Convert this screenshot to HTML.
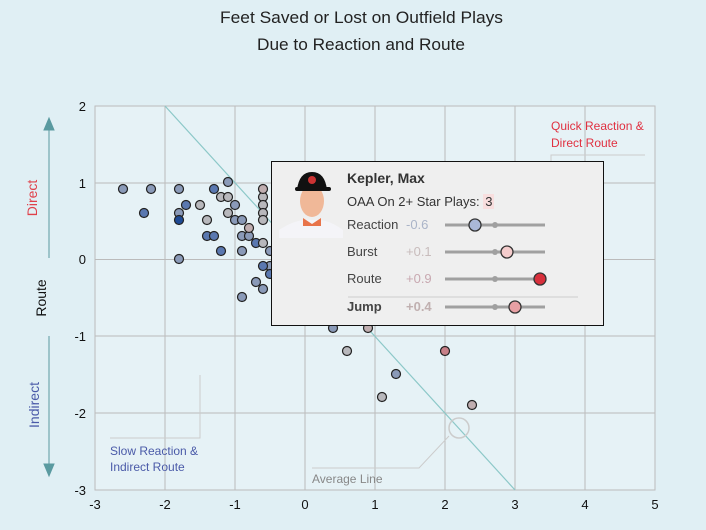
<!DOCTYPE html>
<html><head><meta charset="utf-8"><style>
body{margin:0;width:706px;height:530px;background:#e0eff4;font-family:"Liberation Sans",sans-serif;overflow:hidden;position:relative}
.tt{position:absolute;left:271px;top:161px;width:331px;height:163px;background:#efefef;border:1.5px solid #111;}
.tt div{position:absolute;font-size:13px;color:#444}
</style></head><body>
<svg width="706" height="530" style="position:absolute;left:0;top:0" font-family="Liberation Sans, sans-serif">
<text x="220" y="23" font-size="16.5" fill="#222" textLength="283" lengthAdjust="spacingAndGlyphs">Feet Saved or Lost on Outfield Plays</text>
<text x="257" y="50" font-size="16.5" fill="#222" textLength="208" lengthAdjust="spacingAndGlyphs">Due to Reaction and Route</text>
<rect x="95" y="106" width="560" height="384" fill="#e6f2f6" stroke="#bbb"/>
<g stroke="#bbb" stroke-width="1">
<line x1="165" y1="106" x2="165" y2="490"/><line x1="235" y1="106" x2="235" y2="490"/><line x1="305" y1="106" x2="305" y2="490"/><line x1="375" y1="106" x2="375" y2="490"/><line x1="445" y1="106" x2="445" y2="490"/><line x1="515" y1="106" x2="515" y2="490"/><line x1="585" y1="106" x2="585" y2="490"/>
<line x1="95" y1="183" x2="655" y2="183"/><line x1="95" y1="259.5" x2="655" y2="259.5"/><line x1="95" y1="336" x2="655" y2="336"/><line x1="95" y1="413" x2="655" y2="413"/>
</g>
<g font-size="13" fill="#111" text-anchor="middle">
<text x="95" y="509">-3</text><text x="165" y="509">-2</text><text x="235" y="509">-1</text><text x="305" y="509">0</text><text x="375" y="509">1</text><text x="445" y="509">2</text><text x="515" y="509">3</text><text x="585" y="509">4</text><text x="655" y="509">5</text>
</g>
<g font-size="13" fill="#111" text-anchor="end">
<text x="86" y="111">2</text><text x="86" y="188">1</text><text x="86" y="264">0</text><text x="86" y="341">-1</text><text x="86" y="418">-2</text><text x="86" y="495">-3</text>
</g>
<line x1="165" y1="106" x2="515" y2="490" stroke="#8cc8c8" stroke-width="1.2"/>
<g stroke="#5a9aa0" fill="#5a9aa0"><line x1="49" y1="258" x2="49" y2="125"/><path d="M44 130 L49 118 L54 130Z"/><line x1="49" y1="336" x2="49" y2="468"/><path d="M44 464 L49 476 L54 464Z"/></g>
<text transform="translate(37,198) rotate(-90)" font-size="14" fill="#e0404a" text-anchor="middle">Direct</text>
<text transform="translate(46,298) rotate(-90)" font-size="14" fill="#111" text-anchor="middle">Route</text>
<text transform="translate(39,405) rotate(-90)" font-size="14" fill="#4a5aa8" text-anchor="middle">Indirect</text>
<polyline points="200,375 200,438 110,438" fill="none" stroke="#ccc"/>
<text x="110" y="455" font-size="12" fill="#4a5aa8">Slow Reaction &amp;</text><text x="110" y="471" font-size="12" fill="#4a5aa8">Indirect Route</text>
<polyline points="551,180 551,155 645,155" fill="none" stroke="#ccc"/>
<text x="551" y="130" font-size="12" fill="#e03040">Quick Reaction &amp;</text><text x="551" y="147" font-size="12" fill="#e03040">Direct Route</text>
<polyline points="449,436 419,468 312,468" fill="none" stroke="#ccc"/>
<circle cx="459" cy="428" r="10" fill="none" stroke="#ccc" stroke-width="1.5"/>
<text x="312" y="483" font-size="12" fill="#888">Average Line</text>
<g stroke="#222" stroke-width="1.2">
<g fill="#8a9ab8">
<circle cx="123" cy="189" r="4.5"/><circle cx="151" cy="189" r="4.5"/><circle cx="179" cy="189" r="4.5"/><circle cx="228" cy="182" r="4.5"/><circle cx="179" cy="213" r="4.5"/><circle cx="235" cy="205" r="4.5"/><circle cx="235" cy="220" r="4.5"/><circle cx="242" cy="220" r="4.5"/><circle cx="242" cy="236" r="4.5"/><circle cx="249" cy="236" r="4.5"/><circle cx="242" cy="251" r="4.5"/><circle cx="270" cy="251" r="4.5"/><circle cx="179" cy="259" r="4.5"/><circle cx="270" cy="266" r="4.5"/><circle cx="256" cy="282" r="4.5"/><circle cx="263" cy="289" r="4.5"/><circle cx="242" cy="297" r="4.5"/><circle cx="333" cy="328" r="4.5"/><circle cx="396" cy="374" r="4.5"/>
</g>
<g fill="#5a78b0">
<circle cx="214" cy="189" r="4.5"/><circle cx="186" cy="205" r="4.5"/><circle cx="144" cy="213" r="4.5"/><circle cx="207" cy="236" r="4.5"/><circle cx="214" cy="236" r="4.5"/><circle cx="256" cy="243" r="4.5"/><circle cx="221" cy="251" r="4.5"/><circle cx="263" cy="266" r="4.5"/><circle cx="270" cy="274" r="4.5"/>
</g>
<circle cx="179" cy="220" r="4.5" fill="#1e4a94"/>
<g fill="#b8b8bc">
<circle cx="221" cy="197" r="4.5"/><circle cx="228" cy="197" r="4.5"/><circle cx="200" cy="205" r="4.5"/><circle cx="228" cy="213" r="4.5"/><circle cx="207" cy="220" r="4.5"/><circle cx="263" cy="243" r="4.5"/><circle cx="347" cy="351" r="4.5"/><circle cx="382" cy="397" r="4.5"/>
<circle cx="263" cy="197" r="4.5"/><circle cx="263" cy="205" r="4.5"/><circle cx="263" cy="213" r="4.5"/><circle cx="263" cy="220" r="4.5"/>
</g>
<g fill="#c0aeb0"><circle cx="263" cy="189" r="4.5"/><circle cx="249" cy="228" r="4.5"/><circle cx="368" cy="328" r="4.5"/><circle cx="472" cy="405" r="4.5"/></g>
<circle cx="445" cy="351" r="4.5" fill="#c88088"/>
</g>
</svg>
<div class="tt">
<svg width="70" height="70" style="position:absolute;left:5px;top:6px">
<path d="M2 62 Q20 50 35 52 Q50 50 66 62 L66 70 L2 70Z" fill="#f4f4f8"/>
<path d="M26 50 L35 56 L44 50 L44 58 L26 58Z" fill="#e8744a"/>
<ellipse cx="35" cy="33" rx="12" ry="16" fill="#f0b898"/>
<path d="M20 22 Q22 4 35 4 Q48 4 50 22 Z" fill="#111"/>
<rect x="18" y="19" width="36" height="4" rx="2" fill="#111"/>
<circle cx="35" cy="12" r="4" fill="#c33"/>
</svg>
<div style="left:75px;top:8px;font-size:14px;font-weight:bold;color:#333">Kepler, Max</div>
<div style="left:75px;top:32px;color:#333">OAA On 2+ Star Plays: <span style="background:#f8dede;padding:0 2px">3</span></div>
<div style="left:75px;top:55px">Reaction</div><div style="left:134px;top:55px;color:#aab4c8">-0.6</div>
<div style="left:75px;top:82px">Burst</div><div style="left:134px;top:82px;color:#c8bcbc">+0.1</div>
<div style="left:75px;top:109px">Route</div><div style="left:134px;top:109px;color:#c8a8b0">+0.9</div>
<div style="left:75px;top:137px;font-weight:bold">Jump</div><div style="left:134px;top:137px;color:#c0b0b0;font-weight:bold">+0.4</div>
<svg width="330" height="160" style="position:absolute;left:0;top:0">
<line x1="76" y1="135" x2="306" y2="135" stroke="#ccc"/>
<g stroke="#a0a0a0" stroke-width="3"><line x1="173" y1="63" x2="273" y2="63"/><line x1="173" y1="90" x2="273" y2="90"/><line x1="173" y1="117" x2="273" y2="117"/><line x1="173" y1="145" x2="273" y2="145"/></g>
<g fill="#a0a0a0"><circle cx="223" cy="63" r="3"/><circle cx="223" cy="90" r="3"/><circle cx="223" cy="117" r="3"/><circle cx="223" cy="145" r="3"/></g>
<g stroke="#333" stroke-width="1.3"><circle cx="203" cy="63" r="6" fill="#aab8d8"/><circle cx="235" cy="90" r="6" fill="#f4cccc"/><circle cx="268" cy="117" r="6" fill="#d8303c"/><circle cx="243" cy="145" r="6" fill="#e8a0a4"/></g>
</svg>
</div>
</body></html>
